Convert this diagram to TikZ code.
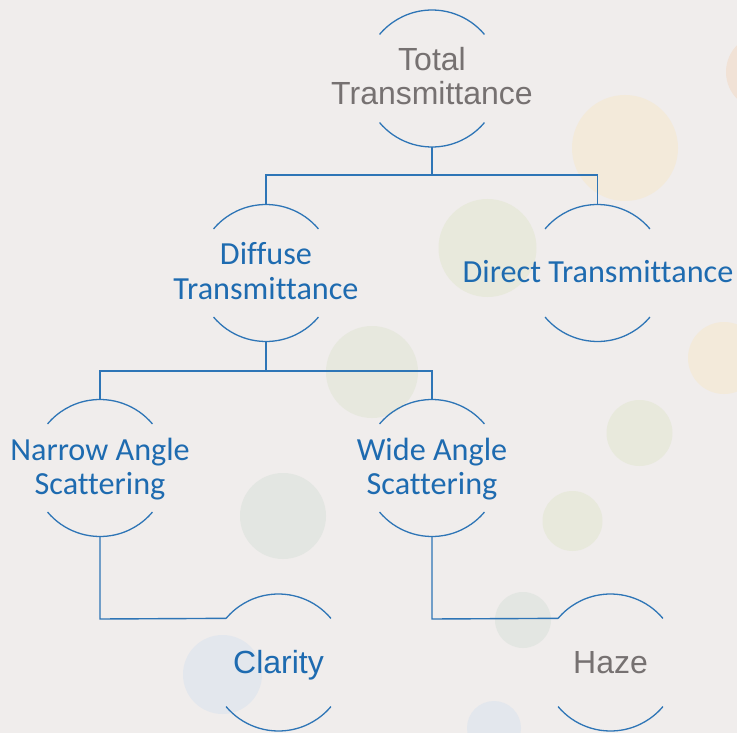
\documentclass[tikz,border=0pt]{standalone}
\usepackage{fontspec}
\setmainfont{Liberation Sans}
\newfontfamily\calib[Ligatures={NoCommon}]{Carlito}
\definecolor{bg}{RGB}{240,237,236}
\definecolor{lineblue}{HTML}{2E75B6}
\definecolor{txtblue}{HTML}{1E6BB0}
\definecolor{txtgrey}{HTML}{767171}
\definecolor{cyel}{RGB}{243,234,218}
\definecolor{cpeach}{RGB}{241,226,214}
\definecolor{cgreen}{RGB}{232,233,220}
\definecolor{cgg}{RGB}{227,230,226}
\definecolor{cblue}{RGB}{227,231,237}
\tikzset{
  ring/.style={circle, minimum size=137pt, inner sep=0pt},
  arcline/.style={draw=lineblue, line width=1.3pt},
  conn/.style={draw=lineblue, line width=1.4pt},
  lbl/.style={anchor=base, inner sep=0pt, font=\fontsize{32}{34}\selectfont},
  blbl/.style={lbl, text=txtblue, font=\fontsize{32.2}{34.3}\selectfont\calib},
  rblue/.style={lbl, text=txtblue},
  rgrey/.style={lbl, text=txtgrey},
}
\newcommand{\ringarcs}[1]{%
  \draw[arcline] ([shift={(40:68.5pt)}]#1.center) arc[start angle=40,end angle=140,radius=68.5pt];
  \draw[arcline] ([shift={(220:68.5pt)}]#1.center) arc[start angle=220,end angle=320,radius=68.5pt];}
\begin{document}
\begin{tikzpicture}[x=1pt,y=-1pt]
\fill[bg] (0,0) rectangle (737,733);
\useasboundingbox (0,0) rectangle (737,733);
% background circles
\fill[cpeach] (764,72) circle[radius=38pt];
\fill[cyel] (625,148) circle[radius=53pt];
\fill[cyel] (724,358) circle[radius=36pt];
\fill[cgreen] (639.5,433) circle[radius=33pt];
\fill[cgreen] (487.5,248) circle[radius=49pt];
\fill[cgreen!70!cgg] (372,372) circle[radius=46pt];
\fill[cgg] (283,516) circle[radius=43pt];
\fill[cgreen] (572.5,521) circle[radius=30pt];
\fill[cgg] (523,620) circle[radius=28pt];
\fill[cblue] (222.5,674.5) circle[radius=39.5pt];
\fill[cblue] (494,728) circle[radius=27pt];
% rings
\node[ring] (t) at (432,78.5) {};
\node[ring] (d) at (266,273) {};
\node[ring] (dt) at (597.5,273) {};
\node[ring] (n) at (100,468) {};
\node[ring] (w) at (432,468) {};
\node[ring] (c) at (278.5,662.5) {};
\node[ring] (h) at (610.5,662.5) {};
\ringarcs{t}\ringarcs{d}\ringarcs{dt}\ringarcs{n}\ringarcs{w}\ringarcs{c}\ringarcs{h}
% labels
\node[rgrey] (tl) at (432,70.7) {\begin{tabular}[t]{@{}c@{}}Total\\Transmittance\end{tabular}};
\node[blbl] (dl) at (266,265) {\begin{tabular}[t]{@{}c@{}}Diffuse\\Transmittance\end{tabular}};
\node[blbl] (dtl) at (598,282.7) {Direct Transmittance};
\node[blbl] (nl) at (100,460) {\begin{tabular}[t]{@{}c@{}}Narrow Angle\\Scattering\end{tabular}};
\node[blbl] (wl) at (432,460) {\begin{tabular}[t]{@{}c@{}}Wide Angle\\Scattering\end{tabular}};
\node[rblue] (cl) at (278.5,673.3) {Clarity};
\node[rgrey] (hl) at (610.5,673.3) {Haze};
% connectors
\coordinate (j1) at (432,175);
\coordinate (j2) at (266,371);
\coordinate (j3) at (100,619);
\coordinate (j4) at (432,619);
\draw[conn] (t.south) -- (j1);
\draw[conn] (d.north) -- (d.north |- j1) -- (dt.north |- j1) -- (dt.north);
\draw[conn] (d.south) -- (j2);
\draw[conn] (n.north) -- (n.north |- j2) -- (w.north |- j2) -- (w.north);
\draw[conn] (n.south) -- (j3) -- (c.140);
\draw[conn] (w.south) -- (j4) -- (h.140);
\end{tikzpicture}
\end{document}
